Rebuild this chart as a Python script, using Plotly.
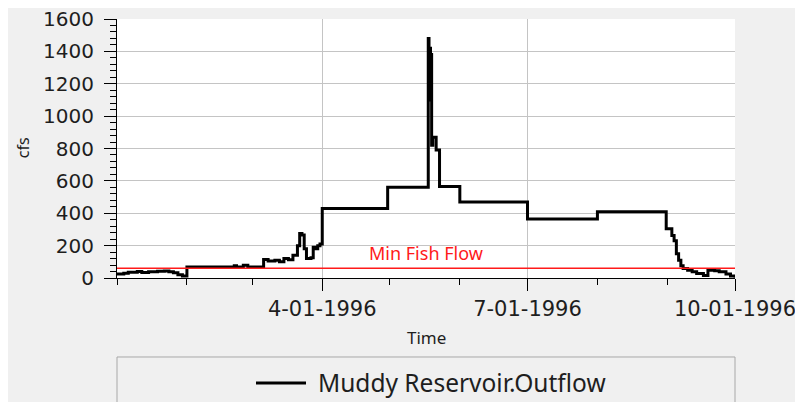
import plotly.graph_objects as go

# Outflow series (step data, value holds until next timestamp)
dates = [
    "1996-01-01", "1996-01-04", "1996-01-06", "1996-01-10", "1996-01-12", "1996-01-15",
    "1996-01-19", "1996-01-22", "1996-01-24", "1996-01-26", "1996-01-28", "1996-01-30",
    "1996-02-01", "1996-02-22", "1996-02-23", "1996-02-26", "1996-02-28",
    "1996-03-06", "1996-03-08", "1996-03-11", "1996-03-13", "1996-03-15", "1996-03-17",
    "1996-03-19", "1996-03-21", "1996-03-22", "1996-03-23", "1996-03-24", "1996-03-25",
    "1996-03-27", "1996-03-28", "1996-03-29", "1996-03-30", "1996-03-31",
    "1996-04-01", "1996-04-30",
    "1996-05-18 00:00", "1996-05-18 08:00", "1996-05-18 16:00", "1996-05-19 00:00",
    "1996-05-19 12:00", "1996-05-20 00:00", "1996-05-21 12:00", "1996-05-23",
    "1996-06-01", "1996-07-01", "1996-08-01", "1996-08-31 12:00",
    "1996-09-03", "1996-09-04", "1996-09-05", "1996-09-06", "1996-09-07", "1996-09-08",
    "1996-09-10", "1996-09-12", "1996-09-14", "1996-09-17", "1996-09-19", "1996-09-22",
    "1996-09-24", "1996-09-27", "1996-09-29", "1996-10-01",
]
outflow = [
    25, 30, 35, 40, 34, 38,
    42, 44, 38, 32, 20, 12,
    68, 76, 68, 78, 68,
    115, 105, 110, 100, 120, 112,
    140, 200, 275, 265, 180, 120,
    125, 190, 180, 200, 210,
    430, 560,
    1480, 1100, 1420, 1380,
    820, 870, 790, 565,
    470, 365, 410, 305,
    262, 230, 150, 110, 75, 58,
    48, 38, 28, 15, 48, 45,
    38, 25, 12, 2,
]

min_fish_flow = 60
x_range = ["1996-01-01", "1996-10-01"]
y_range = [0, 1600]
major_ticks = ["1996-04-01", "1996-07-01", "1996-10-01"]
major_labels = ["4-01-1996", "7-01-1996", "10-01-1996"]
series_name = "Muddy Reservoir.Outflow"
line_label = "Min Fish Flow"
x_title = "Time"
y_title = "cfs"

TICKFONT = "DejaVu Sans"
FONT = "Noto Sans"
TXT = "#1e1e1e"

fig = go.Figure()
fig.add_trace(go.Scatter(
    x=dates, y=outflow, mode="lines", name=series_name,
    line=dict(color="black", width=3, shape="hv"), showlegend=False,
))
fig.add_trace(go.Scatter(
    x=x_range, y=[min_fish_flow, min_fish_flow], mode="lines",
    line=dict(color="#ff1a1a", width=1.5), showlegend=False, hoverinfo="skip",
))

fig.add_annotation(
    xref="paper", x=0.5, y=min_fish_flow, yshift=1, text=line_label, showarrow=False,
    yanchor="bottom", xanchor="center",
    font=dict(family=FONT, size=18, color="#ff1a1a"),
)
# axis titles
fig.add_annotation(xref="paper", yref="paper", x=0.5, y=-0.228, text=x_title,
                   showarrow=False, xanchor="center", yanchor="middle",
                   font=dict(family=FONT, size=17, color=TXT))
fig.add_annotation(xref="paper", yref="paper", x=-0.151, y=0.504, text=y_title,
                   textangle=-90, showarrow=False, xanchor="center", yanchor="middle",
                   font=dict(family=FONT, size=16, color=TXT))

# legend box, sample line and text
fig.add_shape(type="rect", xref="paper", yref="paper",
              x0=0, x1=1, y0=-0.305, y1=-0.56,
              line=dict(color="#a8a8a8", width=1), fillcolor="#f0f0f0", layer="below")
fig.add_shape(type="line", xref="paper", yref="paper",
              x0=(256 - 117) / 618, x1=(306 - 117) / 618, y0=-0.405, y1=-0.405,
              line=dict(color="black", width=3))
fig.add_annotation(xref="paper", yref="paper", x=(316 - 117) / 618, y=-0.405,
                   text=series_name, showarrow=False, xanchor="left", yanchor="middle",
                   font=dict(family=FONT, size=24.5, color=TXT))

fig.update_layout(
    width=795, height=394,
    margin=dict(l=109, r=68, t=11, b=124, autoexpand=False),
    paper_bgcolor="#f0f0f0", plot_bgcolor="white",
    font=dict(family=FONT, color=TXT),
    showlegend=False,
)
fig.update_xaxes(
    type="date", range=x_range, tickvals=major_ticks, ticktext=major_labels,
    showgrid=True, gridcolor="#c4c4c4", gridwidth=1,
    showline=True, linecolor="black", linewidth=1,
    ticks="outside", ticklen=12, tickcolor="black",
    tickfont=dict(family=TICKFONT, size=21, color=TXT),
    ticklabeloverflow="allow",
    minor=dict(dtick="M1", tick0="1996-01-01", ticks="outside", ticklen=6,
               tickcolor="black", showgrid=False),
    zeroline=False, automargin=False,
)
fig.update_yaxes(
    range=y_range, dtick=200, tick0=0,
    showgrid=True, gridcolor="#c4c4c4", gridwidth=1,
    showline=True, linecolor="black", linewidth=1,
    ticks="outside", ticklen=12, tickcolor="black",
    tickfont=dict(family=TICKFONT, size=20, color=TXT),
    ticklabeloverflow="allow", ticklabelstandoff=6,
    minor=dict(dtick=40, ticks="outside", ticklen=6, tickcolor="black", showgrid=False),
    zeroline=False, automargin=False,
)

fig.write_html("out.html")
